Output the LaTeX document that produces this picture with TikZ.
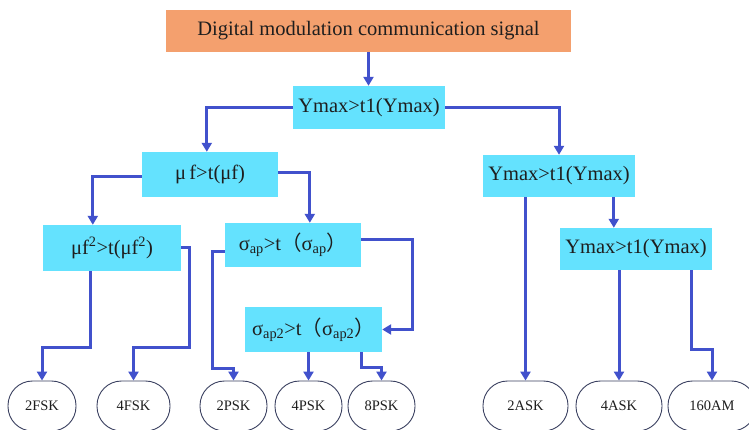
\documentclass[tikz,border=0pt]{standalone}
\usepackage{fontspec}
\setmainfont{Liberation Serif}
\newfontfamily\cjk{Noto Sans CJK SC}
\usetikzlibrary{arrows.meta,calc}
\definecolor{boxcyan}{HTML}{64E2FE}
\definecolor{boxorange}{HTML}{F4A06E}
\definecolor{linkblue}{HTML}{4151CC}
\definecolor{ovaledge}{HTML}{3A4060}
\definecolor{txt}{HTML}{1E1E1E}
\newcommand{\fwl}{{\cjk （}}
\newcommand{\fwr}{{\cjk ）}}
\begin{document}
\begin{tikzpicture}[x=1pt,y=-1pt,
  cbox/.style={fill=boxcyan, draw=none, inner sep=0pt, text=txt,
    font=\fontsize{20.5}{23}\selectfont, minimum height=44pt},
  topbox/.style={fill=boxorange, draw=none, inner sep=0pt, text=txt,
    font=\fontsize{20.5}{23}\selectfont},
  oval/.style={draw=ovaledge, line width=0.9pt, rounded corners=24.5pt, inner sep=0pt,
    minimum height=50pt, text=txt, font=\fontsize{14.5}{16}\selectfont},
  link/.style={draw=linkblue, line width=3pt,
    -{Triangle[length=9pt,width=10pt]}}
]
\useasboundingbox (0,0) rectangle (749,430);
\clip (0,0) rectangle (749,430);
\fill[white] (0,0) rectangle (749,430);

% boxes
\node[topbox, minimum width=405pt, minimum height=42pt] (top) at (368.5,31) {Digital modulation communication signal};
\node[cbox, minimum width=152pt, minimum height=43pt] (y1) at (369,107.5) {Ymax>t1(Ymax)};
\node[cbox, minimum width=136pt, minimum height=45pt] (mf) at (210,174.5) {μ\,f>t(μf)};
\node[cbox, minimum width=138pt, minimum height=46pt] (mf2) at (112,248) {μf\textsuperscript{2}>t(μf\textsuperscript{2})};
\node[cbox, minimum width=136pt, minimum height=44pt] (sap) at (293,245) {σ\textsubscript{ap}>t\fwl σ\textsubscript{ap}\fwr};
\node[cbox, minimum width=137pt, minimum height=45pt] (sap2) at (313.5,329.5) {σ\textsubscript{ap2}>t\fwl σ\textsubscript{ap2}\fwr};
\node[cbox, minimum width=152pt, minimum height=42pt] (y2) at (559,176) {Ymax>t1(Ymax)};
\node[cbox, minimum width=152pt, minimum height=42pt] (y3) at (636,249) {Ymax>t1(Ymax)};

% leaves
\node[oval, minimum width=68pt] (f2) at (42,406) {2FSK};
\node[oval, minimum width=73pt] (f4) at (133.5,406) {4FSK};
\node[oval, minimum width=67pt] (p2) at (233.5,406) {2PSK};
\node[oval, minimum width=67pt] (p4) at (308.5,406) {4PSK};
\node[oval, minimum width=67pt] (p8) at (381.5,406) {8PSK};
\node[oval, minimum width=85pt] (a2) at (525.5,406) {2ASK};
\node[oval, minimum width=86pt] (a4) at (619,406) {4ASK};
\node[oval, minimum width=88pt] (am) at (712,406) {160AM};

% connectors
\draw[link] (top.south) -- (top.south |- y1.north);
\draw[link] (y1.west) -| ($(mf.north west)+(65,0)$);
\draw[link] (y1.east) -| (y2.north);
\draw[link] ($(mf.west)+(0,2.5)$) -| ($(mf2.north west)+(50,0)$);
\draw[link] ($(mf.east)+(0,-1.5)$) -| ($(sap.north west)+(85,0)$);
\draw[link] ($(mf2.south west)+(48,0)$) -- ++(0,76) -| (f2.north);
\draw[link] (mf2.east) -- ++(8,0) -- ++(0,99) -| (f4.north);
\draw[link] ($(sap.west)+(0,7)$) -- ++(-12,0) -- ++(0,116) -| (p2.north);
\draw[link] ($(sap.east)+(0,-5)$) -- ++(51,0) |- (sap2.east);
\draw[link] (p4.north |- sap2.south) -- (p4.north);
\draw[link] ($(sap2.south west)+(117,0)$) -- ++(0,15) -| (p8.north);
\draw[link] (a2.north |- y2.south) -- (a2.north);
\coordinate (y2out) at ($(y2.south west)+(131,0)$);
\draw[link] (y2out) -- (y2out |- y3.north);
\draw[link] (a4.north |- y3.south) -- (a4.north);
\draw[link] ($(y3.south west)+(132,0)$) -- ++(0,79) -| (am.north);
\end{tikzpicture}
\end{document}
